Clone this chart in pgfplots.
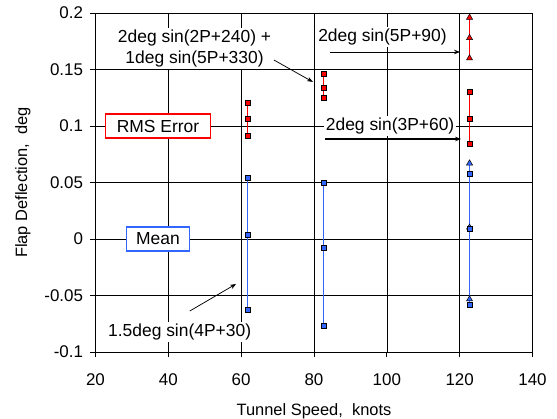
\documentclass[border=0pt]{standalone}
\usepackage{pgfplots}
\pgfplotsset{compat=1.18}
\usepackage{fontspec}
\setmainfont{Liberation Sans}
\usetikzlibrary{arrows.meta}
\definecolor{myred}{RGB}{255,0,0}
\definecolor{myblue}{RGB}{51,102,255}
\begin{document}
\begin{tikzpicture}
\begin{axis}[
  scale only axis, width=437bp, height=339bp,
  xmin=20, xmax=140, ymin=-0.1, ymax=0.2,
  xtick={20,40,60,80,100,120,140},
  ytick={-0.1,-0.05,0,0.05,0.1,0.15,0.2},
  yticklabels={-0.1,-0.05,0,0.05,0.1,0.15,0.2},
  xticklabels={20,40,60,80,100,120,140},
  grid=major, major grid style={black, line width=0.6bp},
  axis line style={black, line width=0.75bp},
  tick style={black, line width=0.75bp},
  tick align=outside, major tick length=5bp,
  xtick pos=bottom, ytick pos=left,
  tick label style={font=\fontsize{17}{17}\selectfont},
  yticklabel style={xshift=-4bp},
  xticklabel style={yshift=-13bp},
  xlabel={Tunnel Speed,\ \ knots},
  ylabel={Flap Deflection,\ \ deg},
  label style={font=\fontsize{16.5}{16.5}\selectfont},
  x label style={at={(axis description cs:0.5,-0.174)}, anchor=center},
  y label style={at={(axis description cs:-0.166,0.5)}, anchor=center},
  clip=false,
]
% x = 61.7
\addplot[color=myred, line width=1.2bp, mark=square*, mark size=2.5bp, mark options={fill=myred, draw=black, line width=0.5bp}]
  coordinates {(61.74,0.121) (61.74,0.106) (61.74,0.091)};
\addplot[color=myblue, line width=1.2bp, mark=square*, mark size=2.5bp, mark options={fill=myblue, draw=black, line width=0.5bp}]
  coordinates {(61.74,0.054) (61.74,0.0035) (61.74,-0.063)};
% x = 82.6
\addplot[color=myred, line width=1.2bp, mark=square*, mark size=2.5bp, mark options={fill=myred, draw=black, line width=0.5bp}]
  coordinates {(82.6,0.146) (82.6,0.134) (82.6,0.125)};
\addplot[color=myblue, line width=1.2bp, mark=square*, mark size=2.5bp, mark options={fill=myblue, draw=black, line width=0.5bp}]
  coordinates {(82.6,0.050) (82.6,-0.0074) (82.6,-0.0767)};
% x = 122.7
\addplot[color=myred, line width=1.2bp, mark=triangle*, mark size=3.5bp, mark options={fill=myred, draw=black, line width=0.5bp}]
  coordinates {(122.71,0.196) (122.71,0.178) (122.71,0.160)};
\addplot[color=myred, line width=1.2bp, mark=square*, mark size=2.5bp, mark options={fill=myred, draw=black, line width=0.5bp}]
  coordinates {(122.71,0.130) (122.71,0.1065) (122.71,0.0842)};
\addplot[color=myblue, line width=1.2bp, mark=triangle*, mark size=3.5bp, mark options={fill=myblue, draw=black, line width=0.5bp}]
  coordinates {(122.71,0.067) (122.71,0.0102) (122.71,-0.0533)};
\addplot[color=myblue, line width=1.2bp, mark=square*, mark size=2.5bp, mark options={fill=myblue, draw=black, line width=0.5bp}]
  coordinates {(122.71,0.0577) (122.71,0.0087) (122.71,-0.0583)};

% annotations
\begin{scope}[every node/.append style={font=\fontsize{17.5}{21}\selectfont}]
\node[fill=white, align=center, inner sep=2bp] at (axis cs:47.2,0.1686) {2deg sin(2P+240) +\\1deg sin(5P+330)};
\draw[-{Stealth[length=6bp,width=4.5bp]}, line width=0.75bp] (axis cs:69.0,0.1584) -- (axis cs:79.7,0.139);
\node[fill=white, inner sep=2bp] at (axis cs:98.8,0.1788) {2deg sin(5P+90)};
\draw[-{Stealth[length=6bp,width=4.5bp]}, line width=0.9bp] (axis cs:84.4,0.1655) -- (axis cs:120.1,0.1655);
\node[fill=white, inner sep=2bp] at (axis cs:100.9,0.1) {2deg sin(3P+60)};
\draw[-{Stealth[length=6bp,width=4.5bp]}, line width=1.4bp] (axis cs:83.0,0.0885) -- (axis cs:120.4,0.0885);
\draw[fill=white, draw=myred, line width=1.3bp] (axis cs:37.16,0.1) ++(-52.5bp,-12bp) rectangle ++(105bp,24bp);
\node at (axis cs:37.16,0.1) {RMS Error};
\draw[fill=white, draw=myblue, line width=1.3bp] (axis cs:37.16,0) ++(-31.5bp,-12bp) rectangle ++(63bp,24bp);
\node at (axis cs:37.16,0) {Mean};
\node[fill=white, inner sep=2bp] at (axis cs:43.1,-0.0823) {1.5deg sin(4P+30)};
\draw[-{Stealth[length=6bp,width=4.5bp]}, line width=0.75bp] (axis cs:45.9,-0.0637) -- (axis cs:58.6,-0.0398);
\end{scope}
\end{axis}
\pgfresetboundingbox
\path (current axis.south west) ++(-95.5bp,-67bp) rectangle ++(557bp,419bp);
\end{tikzpicture}
\end{document}
